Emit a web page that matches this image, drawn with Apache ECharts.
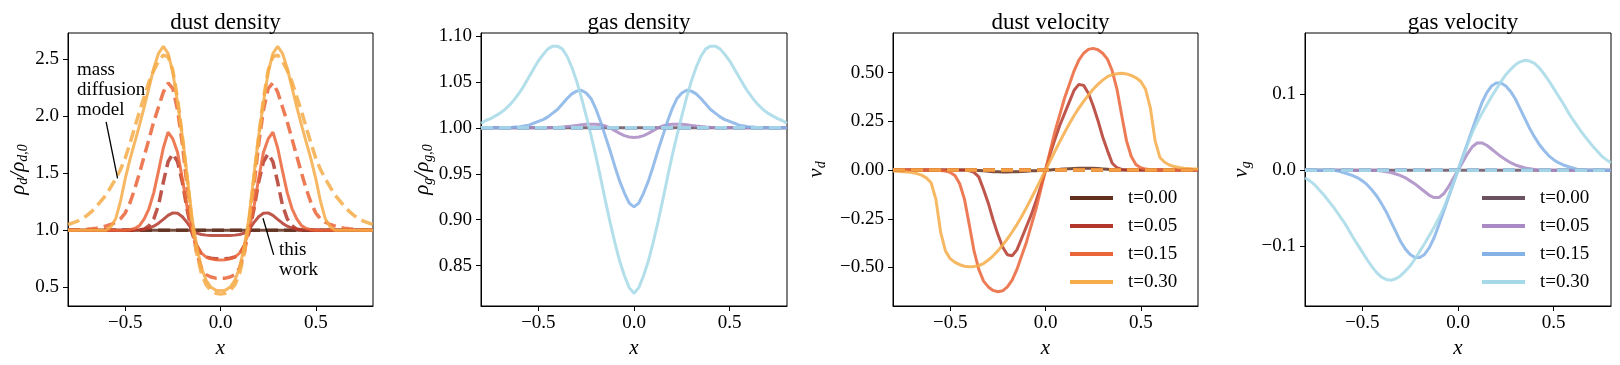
<!DOCTYPE html>
<html>
<head>
<meta charset="utf-8">
<script src="https://cdn.jsdelivr.net/npm/echarts@6/dist/echarts.min.js"></script>
<style>
  html, body { margin: 0; padding: 0; background: #fff; }
  #chart { width: 1620px; height: 365px; }
</style>
</head>
<body>
<div id="chart"></div>
<script>
// shared x grid (step 0.025)
const xs = [-0.8, -0.775, -0.75, -0.725, -0.7, -0.675, -0.65, -0.625, -0.6, -0.575, -0.55, -0.525, -0.5, -0.475, -0.45, -0.425, -0.4, -0.375, -0.35, -0.325, -0.3, -0.275, -0.25, -0.225, -0.2, -0.175, -0.15, -0.125, -0.1, -0.075, -0.05, -0.025, 0,
  0.025, 0.05, 0.075, 0.1, 0.125, 0.15, 0.175, 0.2, 0.225, 0.25, 0.275, 0.3, 0.325, 0.35, 0.375, 0.4, 0.425, 0.45, 0.475, 0.5, 0.525, 0.55, 0.575, 0.6, 0.625, 0.65, 0.675, 0.7, 0.725, 0.75, 0.775, 0.8]
const xEnds = [-0.8, 0.8]
const times = ['t=0.00', 't=0.05', 't=0.15', 't=0.30']

// dust density, this work (solid)
const rhoD00 = [1, 1]
const rhoD05 = [1, 1, 1, 1, 1, 1, 1, 1, 1, 1, 1, 1, 1, 1.001, 1.002, 1.004, 1.009, 1.018, 1.035, 1.062, 1.095, 1.13, 1.152, 1.148, 1.118, 1.066, 1.008, 0.975, 0.962, 0.957, 0.954, 0.953, 0.953,
  0.953, 0.954, 0.957, 0.962, 0.975, 1.008, 1.066, 1.118, 1.148, 1.152, 1.13, 1.095, 1.062, 1.035, 1.018, 1.009, 1.004, 1.002, 1.001, 1, 1, 1, 1, 1, 1, 1, 1, 1, 1, 1, 1, 1]
const rhoD15 = [1, 1, 1, 1, 1, 1, 1, 1, 1, 1, 1, 1, 1, 1.005, 1.015, 1.04, 1.10, 1.19, 1.33, 1.52, 1.72, 1.86, 1.80, 1.68, 1.45, 1.20, 1.00, 0.87, 0.80, 0.765, 0.75, 0.742, 0.74,
  0.742, 0.75, 0.765, 0.80, 0.87, 1.00, 1.20, 1.45, 1.68, 1.80, 1.86, 1.72, 1.52, 1.33, 1.19, 1.10, 1.04, 1.015, 1.005, 1, 1, 1, 1, 1, 1, 1, 1, 1, 1, 1, 1, 1]
const rhoD30 = [1, 1, 1, 1, 1, 1, 1, 1, 1, 1.03, 1.10, 1.25, 1.45, 1.62, 1.77, 1.92, 2.08, 2.25, 2.42, 2.55, 2.61, 2.55, 2.38, 2.12, 1.82, 1.48, 1.12, 0.86, 0.67, 0.56, 0.50, 0.475, 0.47,
  0.475, 0.50, 0.56, 0.67, 0.86, 1.12, 1.48, 1.82, 2.12, 2.38, 2.55, 2.61, 2.55, 2.42, 2.25, 2.08, 1.92, 1.77, 1.62, 1.45, 1.25, 1.10, 1.03, 1, 1, 1, 1, 1, 1, 1, 1, 1]
// dust density, mass diffusion model (dashed)
const mdD00 = [1, 1]
const mdD05 = [1, 1, 1, 1, 1, 1, 1, 1, 1, 1, 1, 1, 1, 1, 1, 1.002, 1.01, 1.04, 1.10, 1.22, 1.42, 1.60, 1.67, 1.60, 1.42, 1.18, 0.98, 0.86, 0.79, 0.765, 0.755, 0.75, 0.75,
  0.75, 0.755, 0.765, 0.79, 0.86, 0.98, 1.18, 1.42, 1.60, 1.67, 1.60, 1.42, 1.22, 1.10, 1.04, 1.01, 1.002, 1, 1, 1, 1, 1, 1, 1, 1, 1, 1, 1, 1, 1, 1, 1]
const mdD15 = [1.0, 1.0, 1.003, 1.005, 1.008, 1.012, 1.018, 1.026, 1.037, 1.05, 1.07, 1.10, 1.15, 1.24, 1.36, 1.50, 1.65, 1.80, 1.95, 2.08, 2.21, 2.29, 2.24, 2.05, 1.75, 1.38, 1.04, 0.80, 0.67, 0.61, 0.59, 0.58, 0.58,
  0.58, 0.59, 0.61, 0.67, 0.80, 1.04, 1.38, 1.75, 2.05, 2.24, 2.29, 2.21, 2.08, 1.95, 1.80, 1.65, 1.50, 1.36, 1.24, 1.15, 1.10, 1.07, 1.05, 1.037, 1.026, 1.018, 1.012, 1.008, 1.005, 1.003, 1.0, 1.0]
const mdD30 = [1.05, 1.065, 1.08, 1.10, 1.13, 1.165, 1.21, 1.26, 1.31, 1.38, 1.45, 1.53, 1.63, 1.76, 1.90, 2.04, 2.17, 2.30, 2.40, 2.48, 2.535, 2.52, 2.40, 2.15, 1.82, 1.45, 1.08, 0.80, 0.62, 0.52, 0.47, 0.448, 0.44,
  0.448, 0.47, 0.52, 0.62, 0.80, 1.08, 1.45, 1.82, 2.15, 2.40, 2.52, 2.535, 2.48, 2.40, 2.30, 2.17, 2.04, 1.90, 1.76, 1.63, 1.53, 1.45, 1.38, 1.31, 1.26, 1.21, 1.165, 1.13, 1.10, 1.08, 1.065, 1.05]

// gas density
const rhoG00 = [1, 1]
const rhoG05 = [1, 1, 1, 1, 1, 1, 1, 1, 1, 1, 1, 1, 1, 1, 1, 1.0003, 1.0006, 1.001, 1.0015, 1.002, 1.0027, 1.0033, 1.0038, 1.004, 1.004, 1.0035, 1.002, 1.0, 0.997, 0.994, 0.9915, 0.990, 0.9895,
  0.990, 0.9915, 0.994, 0.997, 1.0, 1.002, 1.0035, 1.004, 1.004, 1.0038, 1.0033, 1.0027, 1.002, 1.0015, 1.001, 1.0006, 1.0003, 1, 1, 1, 1, 1, 1, 1, 1, 1, 1, 1, 1, 1, 1, 1]
const rhoG15 = [1, 1, 1, 1, 1, 1, 1, 1.001, 1.001, 1.002, 1.003, 1.005, 1.007, 1.009, 1.012, 1.016, 1.020, 1.026, 1.032, 1.037, 1.040, 1.041, 1.038, 1.032, 1.021, 1.007, 0.991, 0.975, 0.958, 0.942, 0.929, 0.918, 0.914,
  0.918, 0.929, 0.942, 0.958, 0.975, 0.991, 1.007, 1.021, 1.032, 1.038, 1.041, 1.040, 1.037, 1.032, 1.026, 1.020, 1.016, 1.012, 1.009, 1.007, 1.005, 1.003, 1.002, 1.001, 1.001, 1, 1, 1, 1, 1, 1, 1]
const rhoG30 = [1.005, 1.008, 1.010, 1.013, 1.016, 1.020, 1.025, 1.031, 1.038, 1.046, 1.055, 1.064, 1.073, 1.080, 1.086, 1.089, 1.089, 1.086, 1.078, 1.066, 1.051, 1.033, 1.013, 0.992, 0.970, 0.946, 0.921, 0.897, 0.875, 0.855, 0.839, 0.826, 0.820,
  0.826, 0.839, 0.855, 0.875, 0.897, 0.921, 0.946, 0.970, 0.992, 1.013, 1.033, 1.051, 1.066, 1.078, 1.086, 1.089, 1.089, 1.086, 1.080, 1.073, 1.064, 1.055, 1.046, 1.038, 1.031, 1.025, 1.020, 1.016, 1.013, 1.010, 1.008, 1.005]
const mdG = [1, 1]

// dust velocity
const vD00 = [0, 0, 0, 0, 0, 0, 0, 0, 0, 0, 0, 0, 0, 0, 0, 0, 0, -0.001, -0.002, -0.004, -0.006, -0.008, -0.009, -0.010, -0.010, -0.009, -0.008, -0.007, -0.006, -0.004, -0.003, -0.001, 0,
  0.001, 0.003, 0.004, 0.006, 0.007, 0.008, 0.009, 0.010, 0.010, 0.009, 0.008, 0.006, 0.004, 0.002, 0.001, 0, 0, 0, 0, 0, 0, 0, 0, 0, 0, 0, 0, 0, 0, 0, 0, 0]
const vD05 = [0, 0, 0, 0, 0, 0, 0, 0, 0, 0, 0, 0, 0, 0, 0, 0, -0.003, -0.012, -0.035, -0.10, -0.17, -0.255, -0.33, -0.395, -0.435, -0.44, -0.41, -0.35, -0.29, -0.23, -0.16, -0.085, 0,
  0.085, 0.16, 0.23, 0.29, 0.35, 0.41, 0.44, 0.435, 0.395, 0.33, 0.255, 0.17, 0.10, 0.035, 0.012, 0.003, 0, 0, 0, 0, 0, 0, 0, 0, 0, 0, 0, 0, 0, 0, 0, 0]
const vD15 = [0, 0, 0, 0, 0, 0, 0, 0, -0.001, -0.001, -0.002, -0.005, -0.012, -0.028, -0.07, -0.15, -0.28, -0.415, -0.51, -0.57, -0.60, -0.618, -0.625, -0.62, -0.60, -0.565, -0.51, -0.44, -0.37, -0.285, -0.20, -0.10, 0,
  0.10, 0.20, 0.285, 0.37, 0.44, 0.51, 0.565, 0.60, 0.62, 0.625, 0.618, 0.60, 0.57, 0.51, 0.415, 0.28, 0.15, 0.07, 0.028, 0.012, 0.005, 0.002, 0.001, 0.001, 0, 0, 0, 0, 0, 0, 0, 0]
const vD30 = [-0.005, -0.006, -0.008, -0.010, -0.013, -0.018, -0.026, -0.040, -0.065, -0.15, -0.32, -0.415, -0.455, -0.474, -0.486, -0.494, -0.497, -0.495, -0.490, -0.480, -0.462, -0.44, -0.415, -0.385, -0.353, -0.318, -0.28, -0.238, -0.193, -0.146, -0.098, -0.049, 0,
  0.049, 0.098, 0.146, 0.193, 0.238, 0.28, 0.318, 0.353, 0.385, 0.415, 0.44, 0.462, 0.480, 0.490, 0.495, 0.497, 0.494, 0.486, 0.474, 0.455, 0.415, 0.32, 0.15, 0.065, 0.040, 0.026, 0.018, 0.013, 0.010, 0.008, 0.006, 0.005]
const mdV = [0, 0]

// gas velocity
const vG00 = [0, 0]
const vG05 = [0, 0, 0, 0, 0, 0, 0, 0, 0, 0, 0, 0, 0, 0, 0, 0, -0.001, -0.002, -0.003, -0.005, -0.007, -0.010, -0.014, -0.018, -0.023, -0.028, -0.033, -0.036, -0.036, -0.031, -0.022, -0.011, 0,
  0.011, 0.022, 0.031, 0.036, 0.036, 0.033, 0.028, 0.023, 0.018, 0.014, 0.010, 0.007, 0.005, 0.003, 0.002, 0.001, 0, 0, 0, 0, 0, 0, 0, 0, 0, 0, 0, 0, 0, 0, 0, 0]
const vG15 = [0, 0, 0, 0, 0, 0, 0, -0.001, -0.003, -0.005, -0.007, -0.010, -0.014, -0.019, -0.026, -0.034, -0.044, -0.055, -0.068, -0.081, -0.094, -0.104, -0.111, -0.115, -0.115, -0.111, -0.102, -0.089, -0.072, -0.054, -0.036, -0.018, 0,
  0.018, 0.036, 0.054, 0.072, 0.089, 0.102, 0.111, 0.115, 0.115, 0.111, 0.104, 0.094, 0.081, 0.068, 0.055, 0.044, 0.034, 0.026, 0.019, 0.014, 0.010, 0.007, 0.005, 0.003, 0.001, 0, 0, 0, 0, 0, 0, 0]
const vG30 = [-0.010, -0.014, -0.019, -0.026, -0.033, -0.041, -0.049, -0.058, -0.067, -0.077, -0.088, -0.098, -0.108, -0.118, -0.127, -0.135, -0.141, -0.144, -0.145, -0.143, -0.139, -0.133, -0.126, -0.117, -0.107, -0.097, -0.086, -0.075, -0.063, -0.050, -0.034, -0.017, 0,
  0.017, 0.034, 0.050, 0.063, 0.075, 0.086, 0.097, 0.107, 0.117, 0.126, 0.133, 0.139, 0.143, 0.145, 0.144, 0.141, 0.135, 0.127, 0.118, 0.108, 0.098, 0.088, 0.077, 0.067, 0.058, 0.049, 0.041, 0.033, 0.026, 0.019, 0.014, 0.010]

// tick values
const xTicks = [-0.5, 0, 0.5]
const yTicksRhoD = [0.5, 1.0, 1.5, 2.0, 2.5]
const yTicksRhoG = [0.85, 0.9, 0.95, 1.0, 1.05, 1.1]
const yTicksVD = [-0.5, -0.25, 0, 0.25, 0.5]
const yTicksVG = [-0.1, 0, 0.1]

const FONT = 'Liberation Serif'
const dustColors = ['#62301f', '#b3382b', '#ea6538', '#f6ac48']
const gasColors = ['#6a5260', '#a98ac4', '#85b2e6', '#a6d9e7']
const dash = [12, 6]

const grids = [
  { left: 68, top: 33, width: 305, height: 273 },
  { left: 481, top: 33, width: 306, height: 273 },
  { left: 893, top: 33, width: 305, height: 273 },
  { left: 1305, top: 33, width: 306, height: 273 }
]

function fmt(digits) {
  return v => (v < 0 ? '\u2212' : '') + Math.abs(v).toFixed(digits)
}

function pairs(xArr, yArr) {
  return xArr.map((x, i) => [x, yArr[i]])
}

function line(name, idx, xArr, yArr, color, dashed) {
  return {
    name: name,
    type: 'line',
    xAxisIndex: idx,
    yAxisIndex: idx,
    data: pairs(xArr, yArr),
    showSymbol: false,
    symbol: 'none',
    color: color,
    lineStyle: { color: color, width: dashed ? 3.5 : 3, opacity: 0.85, type: dashed ? dash : 'solid' },
    emphasis: { disabled: true },
    animation: false
  }
}

function xAxis(idx) {
  return {
    type: 'value',
    gridIndex: idx,
    min: -0.8,
    max: 0.8,
    name: '{i|x}',
    nameLocation: 'middle',
    nameGap: 30,
    nameTextStyle: { rich: { i: { fontFamily: FONT, fontStyle: 'italic', fontSize: 21, color: '#000' } } },
    axisLine: { show: true, onZero: false, lineStyle: { color: '#000', width: 1 } },
    axisTick: { show: true, length: 5, customValues: xTicks, lineStyle: { color: '#000' } },
    axisLabel: { customValues: xTicks, formatter: fmt(1), fontFamily: FONT, fontSize: 19, color: '#000', margin: 8 },
    splitLine: { show: false }
  }
}

function yAxis(idx, min, max, ticks, digits, name, gap) {
  return {
    type: 'value',
    gridIndex: idx,
    min: min,
    max: max,
    name: name,
    nameLocation: 'middle',
    nameRotate: 90,
    nameGap: gap,
    nameTextStyle: {
      rich: {
        i: { fontFamily: FONT, fontStyle: 'italic', fontSize: 21, lineHeight: 24, color: '#000' },
        s: { fontFamily: FONT, fontStyle: 'italic', fontSize: 14, lineHeight: 14, verticalAlign: 'bottom', color: '#000' }
      }
    },
    axisLine: { show: true, onZero: false, lineStyle: { color: '#000', width: 1 } },
    axisTick: { show: true, length: 5, customValues: ticks, lineStyle: { color: '#000' } },
    axisLabel: { customValues: ticks, formatter: fmt(digits), fontFamily: FONT, fontSize: 19, color: '#000', margin: 9 },
    splitLine: { show: false }
  }
}

function legend(prefix, names, left) {
  return {
    orient: 'vertical',
    left: left,
    top: 182,
    data: names.map(n => prefix + ' ' + n),
    formatter: n => n.split(' ')[1],
    icon: 'rect',
    itemWidth: 43,
    itemHeight: 4,
    itemGap: 6,
    selectedMode: false,
    textStyle: { fontFamily: FONT, fontSize: 19, color: '#000', lineHeight: 22, padding: [0, 0, 0, 10] }
  }
}

function getOptions() {
  const series = [
    line('rd t=0.00', 0, xEnds, rhoD00, dustColors[0], false),
    line('md t=0.00', 0, xEnds, mdD00, dustColors[0], true),
    line('rd t=0.05', 0, xs, rhoD05, dustColors[1], false),
    line('md t=0.05', 0, xs, mdD05, dustColors[1], true),
    line('rd t=0.15', 0, xs, rhoD15, dustColors[2], false),
    line('md t=0.15', 0, xs, mdD15, dustColors[2], true),
    line('rd t=0.30', 0, xs, rhoD30, dustColors[3], false),
    line('md t=0.30', 0, xs, mdD30, dustColors[3], true),

    line('rg t=0.00', 1, xEnds, rhoG00, gasColors[0], false),
    line('rg t=0.05', 1, xs, rhoG05, gasColors[1], false),
    line('rg t=0.15', 1, xs, rhoG15, gasColors[2], false),
    line('rg t=0.30', 1, xs, rhoG30, gasColors[3], false),

    line('vd t=0.00', 2, xs, vD00, dustColors[0], false),
    line('vd t=0.05', 2, xs, vD05, dustColors[1], false),
    line('vd t=0.15', 2, xs, vD15, dustColors[2], false),
    line('vd t=0.30', 2, xs, vD30, dustColors[3], false),

    line('vg t=0.00', 3, xEnds, vG00, gasColors[0], false),
    line('vg t=0.05', 3, xs, vG05, gasColors[1], false),
    line('vg t=0.15', 3, xs, vG15, gasColors[2], false),
    line('vg t=0.30', 3, xs, vG30, gasColors[3], false)
  ]
  // mass diffusion model: flat lines for gas and velocities
  times.forEach((t, k) => {
    series.push(line('mg ' + t, 1, xEnds, mdG, gasColors[k], true))
  })
  times.forEach((t, k) => {
    series.push(line('mvd ' + t, 2, xEnds, mdV, dustColors[k], true))
  })
  times.forEach((t, k) => {
    series.push(line('mvg ' + t, 3, xEnds, mdV, gasColors[k], true))
  })

  // annotations in the dust density panel
  const note = { fontFamily: FONT, fontSize: 19, color: '#000', lineHeight: 20, align: 'left', verticalAlign: 'middle' }
  series[0].markLine = {
    silent: true,
    symbol: 'none',
    animation: false,
    label: { show: false },
    lineStyle: { color: '#000', width: 1.3, type: 'solid', opacity: 1 },
    data: [
      [{ coord: [-0.60, 1.95] }, { coord: [-0.54, 1.455] }],
      [{ coord: [0.223, 1.105] }, { coord: [0.279, 0.784] }]
    ]
  }
  series[0].markPoint = {
    silent: true,
    symbol: 'circle',
    symbolSize: 0,
    animation: false,
    data: [
      { coord: [-0.753, 2.229], label: Object.assign({ show: true, position: [0, 0], formatter: 'mass\ndiffusion\nmodel' }, note) },
      { coord: [0.307, 0.74], label: Object.assign({ show: true, position: [0, 0], formatter: 'this\nwork' }, note) }
    ]
  }

  const titles = ['dust density', 'gas density', 'dust velocity', 'gas velocity']

  return {
    backgroundColor: '#fff',
    animation: false,
    title: titles.map((t, i) => ({
      text: t,
      left: grids[i].left + grids[i].width / 2,
      top: 6,
      textAlign: 'center',
      textStyle: { fontFamily: FONT, fontSize: 23, fontWeight: 'normal', color: '#000' }
    })),
    legend: [legend('vd', times, 1065), legend('vg', times, 1477)],
    grid: grids.map(g => Object.assign({ show: true, borderColor: '#000', borderWidth: 1, backgroundColor: 'transparent' }, g)),
    xAxis: [xAxis(0), xAxis(1), xAxis(2), xAxis(3)],
    yAxis: [
      yAxis(0, 0.336, 2.728, yTicksRhoD, 1, '{i|ρ}{s|d}{i|/ρ}{s|d,0}', 38),
      yAxis(1, 0.806, 1.1033, yTicksRhoG, 2, '{i|ρ}{s|g}{i|/ρ}{s|g,0}', 46),
      yAxis(2, -0.698, 0.704, yTicksVD, 2, '{i|v}{s|d}', 65),
      yAxis(3, -0.179, 0.181, yTicksVG, 1, '{i|v}{s|g}', 52)
    ],
    series: series
  }
}

function init(id) {
  const myChart = echarts.init(document.getElementById(id), null, { renderer: 'canvas' })
  myChart.setOption(getOptions())
}

init('chart')
</script>
</body>
</html>
